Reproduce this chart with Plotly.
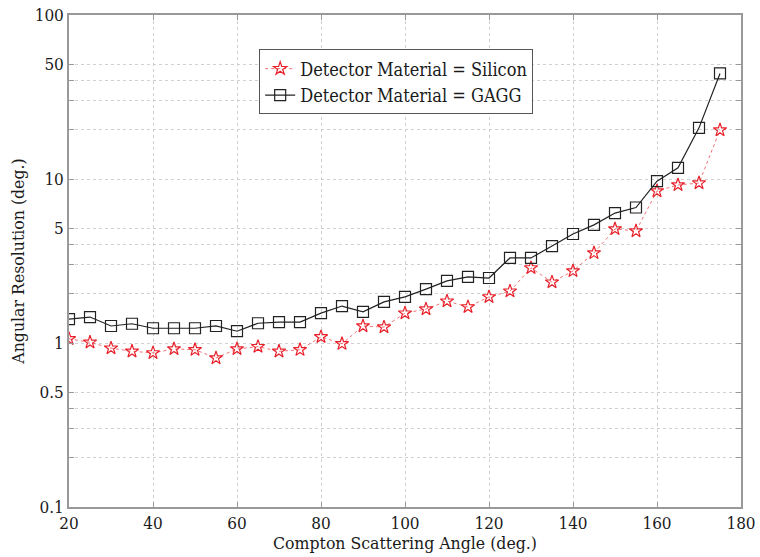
import plotly.graph_objects as go

angles = list(range(20, 180, 5))
silicon = [1.06, 1.01, 0.93, 0.89, 0.87, 0.92, 0.91, 0.81, 0.92, 0.95, 0.89, 0.91,
           1.09, 0.99, 1.27, 1.25, 1.52, 1.61, 1.80, 1.66, 1.91, 2.07, 2.87, 2.35,
           2.75, 3.54, 4.96, 4.82, 8.45, 9.2, 9.45, 19.9]
gagg = [1.40, 1.44, 1.27, 1.31, 1.23, 1.23, 1.23, 1.27, 1.18, 1.32, 1.34, 1.34,
        1.52, 1.68, 1.55, 1.78, 1.91, 2.13, 2.39, 2.53, 2.49, 3.30, 3.30, 3.90,
        4.62, 5.25, 6.2, 6.7, 9.7, 11.7, 20.5, 44.0]

ytickvals = [0.1, 0.2, 0.3, 0.4, 0.5, 1, 2, 3, 4, 5, 10, 20, 30, 40, 50, 100]
yticktext = ["0.1", "", "", "", "0.5", "1", "", "", "", "5", "10", "", "", "", "50", "100"]
xtickvals = [20, 40, 60, 80, 100, 120, 140, 160, 180]

ff = "DejaVu Serif Condensed, DejaVu Serif"

fig = go.Figure()
fig.add_trace(go.Scatter(
    x=angles, y=silicon, mode="lines+markers",
    name="Detector Material = Silicon",
    line=dict(color="rgba(240,80,80,0.8)", width=1, dash="dot"),
    marker=dict(symbol="star-open", size=10, color="#e8202a", line=dict(width=1.2, color="#e8202a")),
))
fig.add_trace(go.Scatter(
    x=angles, y=gagg, mode="lines+markers",
    name="Detector Material = GAGG",
    line=dict(color="#222222", width=1.2),
    marker=dict(symbol="square-open", size=11, color="#222222", line=dict(width=1.2, color="#222222")),
))

fig.update_layout(
    width=760, height=557,
    margin=dict(l=69, r=19, t=15, b=50, autoexpand=False),
    paper_bgcolor="white", plot_bgcolor="white",
    font=dict(family=ff, size=17, color="#1a1a1a"),
    showlegend=True,
    legend=dict(
        x=0.283, y=0.93, xanchor="left", yanchor="top",
        bgcolor="white", bordercolor="#555555", borderwidth=1,
        font=dict(family=ff, size=18, color="#1a1a1a"),
        tracegroupgap=0, itemwidth=30,
    ),
)
fig.update_xaxes(
    range=[20, 180], tickvals=xtickvals, ticktext=[str(v) for v in xtickvals],
    showgrid=True, gridcolor="#d0d0d0", griddash="dot", gridwidth=1,
    showline=True, linecolor="#999999", linewidth=1.5, mirror="ticks",
    ticks="inside", ticklen=5, tickcolor="#999999",
    zeroline=False, automargin=False,
    title=dict(text="Compton Scattering Angle (deg.)", standoff=1,
               font=dict(family=ff, size=17.5)),
    tickfont=dict(family=ff, size=17),
)
fig.update_yaxes(
    type="log", range=[-1, 2], tickvals=ytickvals, ticktext=yticktext,
    showgrid=True, gridcolor="#d0d0d0", griddash="dot", gridwidth=1,
    showline=True, linecolor="#999999", linewidth=1.5, mirror="ticks",
    ticks="inside", ticklen=5, tickcolor="#999999",
    zeroline=False, automargin=False,
    title=dict(text="Angular Resolution (deg.)", standoff=6,
               font=dict(family=ff, size=17.5)),
    tickfont=dict(family=ff, size=17),
)

fig.write_html("out.html")
